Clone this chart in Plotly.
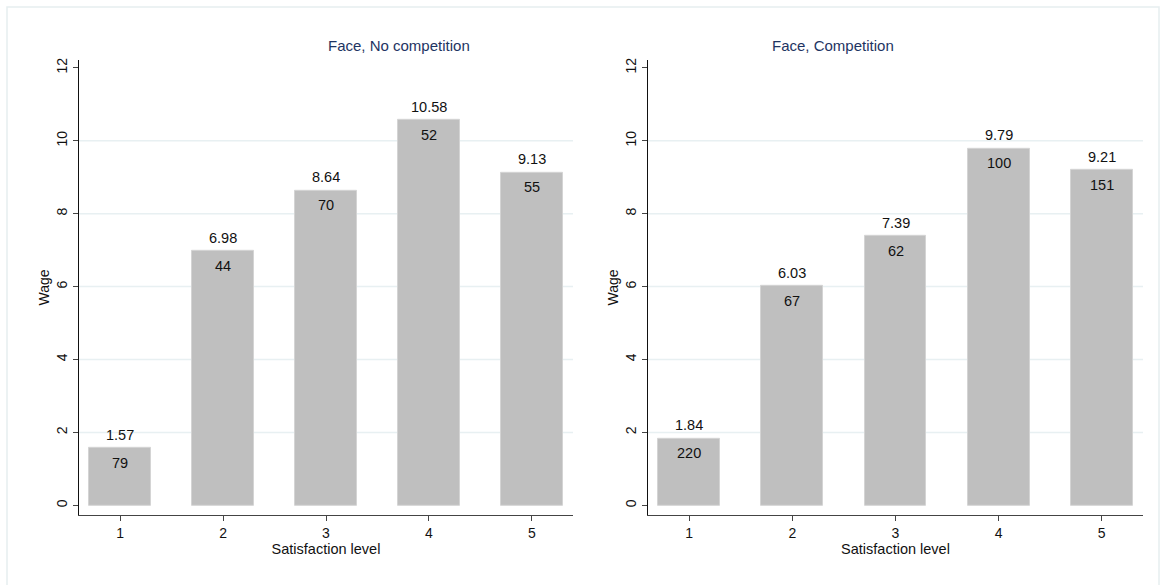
import plotly.graph_objects as go

categories = [1, 2, 3, 4, 5]
panel_titles = ["Face, No competition", "Face, Competition"]
wage_nocomp = [1.57, 6.98, 8.64, 10.58, 9.13]
count_nocomp = [79, 44, 70, 52, 55]
wage_comp = [1.84, 6.03, 7.39, 9.79, 9.21]
count_comp = [220, 67, 62, 100, 151]
y_ticks = [0, 2, 4, 6, 8, 10, 12]

W, H = 1161, 585
FONT = "Liberation Sans, Arial, sans-serif"
fig = go.Figure()

panels = [
    (wage_nocomp, count_nocomp, "x", "y", (79, 573)),
    (wage_comp, count_comp, "x2", "y2", (648, 1143)),
]
ytop, ybot = 58, 515
ydom = [(H - ybot) / H, (H - ytop) / H]

annotations = []
for i, (wages, counts, xa, ya, (x0, x1)) in enumerate(panels):
    fig.add_trace(go.Bar(
        x=categories, y=wages, xaxis=xa, yaxis=ya, width=0.6,
        marker=dict(color="#bfbfbf", line=dict(color="#d4d4d4", width=1)),
        showlegend=False, hoverinfo="skip",
    ))
    for c, w, n in zip(categories, wages, counts):
        annotations.append(dict(x=c, y=w, xref=xa, yref=ya, text=f"{w:.2f}",
                                showarrow=False, yanchor="bottom", yshift=3,
                                font=dict(family=FONT, size=14.5, color="#111")))
        annotations.append(dict(x=c, y=w, xref=xa, yref=ya, text=str(n),
                                showarrow=False, yanchor="top", yshift=-5,
                                font=dict(family=FONT, size=14.5, color="#111")))
    annotations.append(dict(x=(x0 + x1) / 2 / W, y=(H - 44) / H, xref="paper", yref="paper",
                            text=panel_titles[i], showarrow=False, yanchor="middle",
                            font=dict(family=FONT, size=15, color="#1e3462")))
    sfx = "" if i == 0 else "2"
    fig.update_layout(**{
        "xaxis" + sfx: dict(domain=[x0 / W, x1 / W], range=[0.6, 5.4], tickvals=categories,
                            showline=True, linecolor="#444", linewidth=1.2, ticks="outside",
                            ticklen=5, tickcolor="#444", showgrid=False, zeroline=False,
                            anchor=ya, title=dict(text="Satisfaction level", standoff=2,
                                                  font=dict(family=FONT, size=14.5, color="#111")),
                            tickfont=dict(family=FONT, size=14, color="#111")),
        "yaxis" + sfx: dict(domain=ydom, range=[-0.27, 12.22], tickvals=y_ticks,
                            showline=True, linecolor="#111", linewidth=1.2, ticks="outside",
                            ticklen=5, tickcolor="#444", tickangle=-90, showgrid=False,
                            zeroline=False, anchor=xa,
                            title=dict(text="Wage", standoff=1,
                                       font=dict(family=FONT, size=14, color="#111")),
                            tickfont=dict(family=FONT, size=14, color="#111")),
    })
    for t in y_ticks[1:-1]:
        fig.add_shape(type="line", xref=xa + " domain", yref=ya, x0=0, x1=1, y0=t, y1=t,
                      line=dict(color="#e8f0f2", width=1.5), layer="below")

fig.add_shape(type="rect", xref="paper", yref="paper", x0=7 / W, x1=1159 / W,
              y0=-0.01, y1=(H - 5) / H, line=dict(color="#e6eef0", width=1.5), layer="below")

fig.update_layout(width=W, height=H, margin=dict(l=0, r=0, t=0, b=0),
                  plot_bgcolor="white", paper_bgcolor="white",
                  annotations=annotations, bargap=0)
fig.write_html("out.html", config={"displayModeBar": False},
               post_script="document.body.style.margin='0px';document.body.style.overflow='hidden';")
